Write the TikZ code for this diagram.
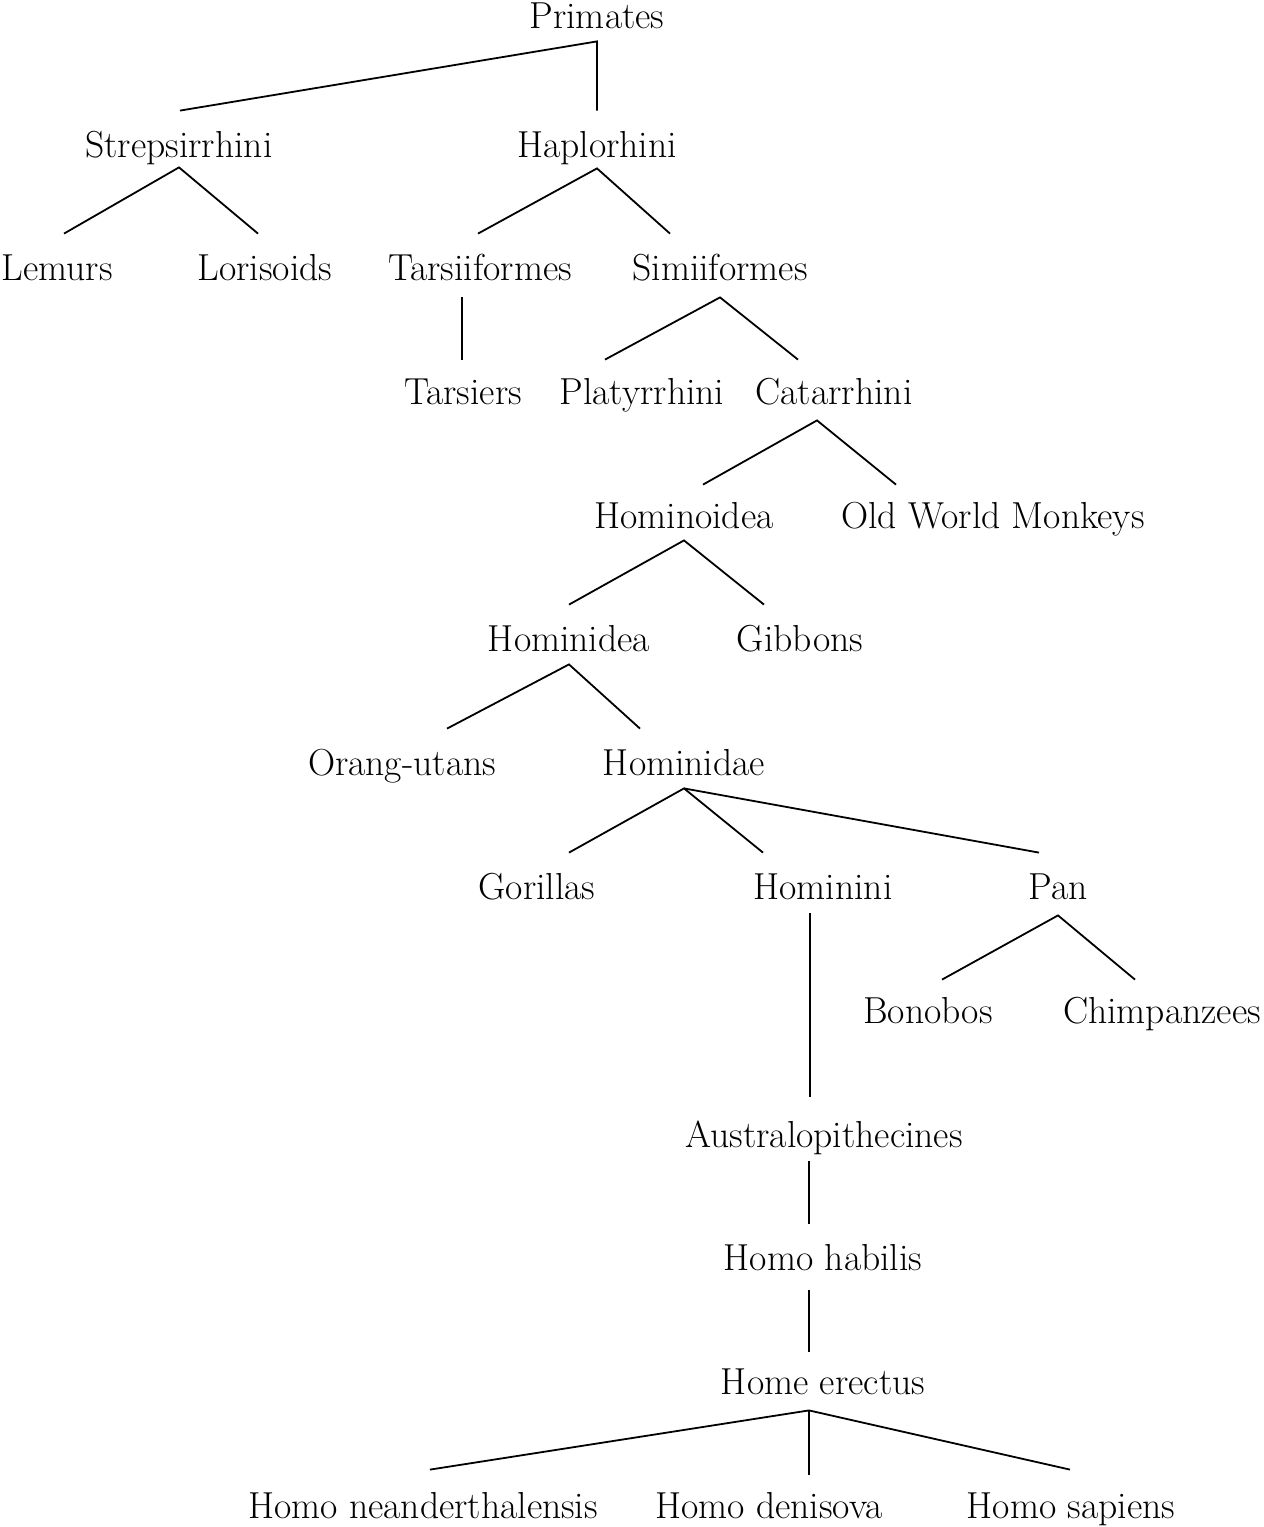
\documentclass[tikz,border=0pt]{standalone}
\usetikzlibrary{calc}
\begin{document}
\begin{tikzpicture}[x=0.5pt,y=-0.5pt,
    taxon/.style={anchor=base,inner sep=0pt,text height=23pt,text depth=7pt,
      font=\fontsize{18.8}{22}\selectfont},
    branch/.style={line width=0.9pt}]
  \useasboundingbox (0,0) rectangle (1264,1527);
  % labels, placed on their baselines
  \node[taxon,text height=13pt] (prim) at (597,28) {Primates};
  \node[taxon] (strep) at (179,157) {Strepsirrhini};
  \node[taxon] (haplo) at (597,157) {Haplorhini};
  \node[taxon] (lemur) at (57,280) {Lemurs};
  \node[taxon] (loris) at (265,280) {Lorisoids};
  \node[taxon] (tarsif) at (480,280) {Tarsiiformes};
  \node[taxon] (simii) at (720,280) {Simiiformes};
  \node[taxon] (tarsier) at (463,404) {Tarsiers};
  \node[taxon] (platy) at (642,404) {Platyrrhini};
  \node[taxon] (catar) at (834,404) {Catarrhini};
  \node[taxon] (hoid) at (684,528) {Hominoidea};
  \node[taxon] (owm) at (993,528) {Old World Monkeys};
  \node[taxon] (hidea) at (569,651) {Hominidea};
  \node[taxon] (gibbon) at (800,651) {Gibbons};
  \node[taxon] (orang) at (402,775) {Orang-utans};
  \node[taxon] (hdae) at (684,775) {Hominidae};
  \node[taxon] (gorilla) at (537,899) {Gorillas};
  \node[taxon] (hini) at (823,899) {Hominini};
  \node[taxon] (pan) at (1058,899) {Pan};
  \node[taxon] (bonobo) at (928,1023) {Bonobos};
  \node[taxon] (chimp) at (1162,1023) {Chimpanzees};
  \node[taxon] (austral) at (824,1147) {Australopithecines};
  \node[taxon] (habilis) at (823,1270) {Homo habilis};
  \node[taxon] (erectus) at (823,1394) {Home erectus};
  \node[taxon] (neand) at (423,1518) {Homo neanderthalensis};
  \node[taxon] (deni) at (769,1518) {Homo denisova};
  \node[taxon] (sapiens) at (1071,1518) {Homo sapiens};
  % branches
  \coordinate (hdaejoin) at ($(hdae.south)+(0,-1)$);
  \coordinate (erectjoin) at ($(erectus.south)+(-14,2)$);
  \draw[branch] ($(strep.north)+(1,0)$) -- ($(prim.south)+(0,-1)$) -- (haplo.north);
  \draw[branch] ($(lemur.north)+(7,0)$) -- ($(strep.south)+(0,-4)$) -- ($(loris.north)+(-7,0)$);
  \draw[branch] ($(tarsif.north)+(-2,0)$) -- ($(haplo.south)+(0,-3)$) -- ($(simii.north)+(-50,0)$);
  \draw[branch] ($(tarsif.south)+(-18,3)$) -- ($(tarsier.north)+(-1,2)$);
  \draw[branch] ($(platy.north)+(-37,2)$) -- ($(simii.south)+(0,3)$) -- ($(catar.north)+(-36,2)$);
  \draw[branch] ($(hoid.north)+(19,3)$) -- ($(catar.south)+(-17,2)$) -- ($(owm.north)+(-97,3)$);
  \draw[branch] (hidea.north) -- ($(hoid.south)+(0,-2)$) -- ($(gibbon.north)+(-36,0)$);
  \draw[branch] ($(orang.north)+(45,0)$) -- ($(hidea.south)+(0,-1)$) -- ($(hdae.north)+(-44,0)$);
  \draw[branch] ($(gorilla.north)+(32,0)$) -- (hdaejoin) -- ($(hini.north)+(-60,0)$);
  \draw[branch] (hdaejoin) -- ($(pan.north)+(-19,0)$);
  \draw[branch] ($(bonobo.north)+(14,3)$) -- ($(pan.south)+(0,2)$) -- ($(chimp.north)+(-27,3)$);
  \draw[branch] ($(hini.south)+(-13,0)$) -- ($(austral.north)+(-14,-4)$);
  \draw[branch] ($(austral.south)+(-15,0)$) -- ($(habilis.north)+(-14,0)$);
  \draw[branch] ($(habilis.south)+(-14,6)$) -- ($(erectus.north)+(-14,4)$);
  \draw[branch] ($(neand.north)+(7,-2)$) -- (erectjoin) -- ($(sapiens.north)+(-1,-2)$);
  \draw[branch] (erectjoin) -- ($(deni.north)+(40,3)$);
\end{tikzpicture}
\end{document}
